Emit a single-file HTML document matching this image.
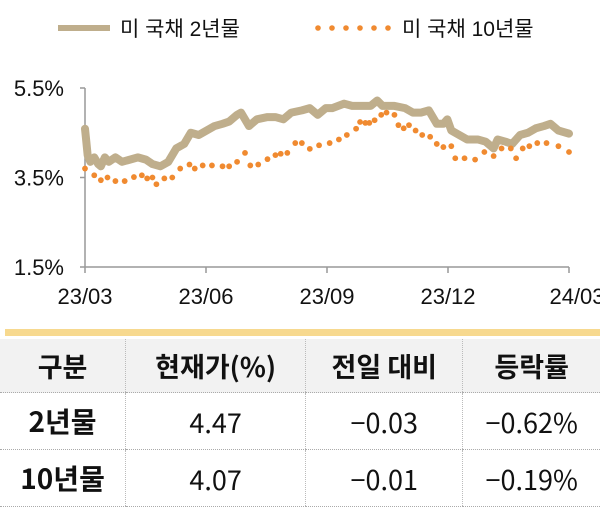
<!DOCTYPE html>
<html><head><meta charset="utf-8"><style>
body{margin:0;width:600px;height:504px;background:#fff;font-family:"Liberation Sans","Noto Sans CJK KR",sans-serif;overflow:hidden;position:relative}
table{position:absolute;left:0;top:339px;width:600px;border-collapse:collapse;font-family:"Noto Sans CJK KR",sans-serif}
td{text-align:center;border-left:1px dotted #bbb;border-bottom:1px dotted #aaa;font-size:27px;color:#111;padding:0}
td:first-child{border-left:none;font-weight:bold;font-size:28px}
tr.h td{background:#f2f2f2;font-weight:bold;font-size:27px;height:53px}
tr.r td{height:56px}
</style></head><body>
<svg width="600" height="334" style="position:absolute;left:0;top:0" font-family="Liberation Sans, Noto Sans CJK KR, sans-serif">
<g>
<line x1="58" y1="28" x2="110" y2="28" stroke="#bfae8c" stroke-width="6"/>
<text x="120" y="36" font-size="21" fill="#111">미 국채 2년물</text>
<g id="ldots"></g>
<text x="402" y="36" font-size="21" fill="#111">미 국채 10년물</text>
</g>
<g id="axes"></g>
<g id="plot"></g>
</svg>
<div style="position:absolute;left:5px;top:329px;width:595px;height:7px;background:#f7d98f"></div>
<table>
<tr class="h"><td>구분</td><td>현재가(%)</td><td>전일 대비</td><td>등락률</td></tr>
<tr class="r"><td>2년물</td><td>4.47</td><td>−0.03</td><td>−0.62%</td></tr>
<tr class="r"><td>10년물</td><td>4.07</td><td>−0.01</td><td>−0.19%</td></tr>
</table>
<script>
const yTicks=[1.5,3.5,5.5];
const xTickLabels=["23/03","23/06","23/09","23/12","24/03"];
const xTickDays=[0,91.5,183,274.5,366];
const days2y=[0,1,2,4,7,10,12,15,18,23,28,34,40,46,51,57,63,69,75,80,86,92,98,104,109,115,118,124,130,138,144,150,156,164,170,176,182,187,196,202,211,216,221,225,234,242,248,254,260,266,271,274,277,283,289,297,303,309,312,318,323,329,335,341,347,352,358,366];
const vals2y=[4.59,4.3,4.0,3.85,3.95,3.8,3.75,3.95,3.85,3.95,3.85,3.9,3.95,3.9,3.8,3.75,3.85,4.15,4.25,4.5,4.45,4.55,4.65,4.7,4.75,4.9,4.95,4.65,4.8,4.85,4.85,4.8,4.95,5.0,5.05,4.9,5.05,5.05,5.15,5.1,5.1,5.1,5.22,5.1,5.1,5.05,4.95,4.95,5.0,4.7,4.7,4.8,4.55,4.45,4.35,4.35,4.3,4.15,4.35,4.3,4.25,4.45,4.5,4.6,4.65,4.7,4.55,4.48];
const days10y=[0,7,12,17,23,30,37,43,47,51,54,60,66,72,79,83,89,96,104,109,115,121,125,131,138,144,148,153,159,164,170,177,185,192,198,205,208,212,215,219,224,228,234,237,241,245,250,255,261,266,271,277,280,287,295,302,309,315,322,326,331,336,342,349,358,366];
const vals10y=[3.7,3.55,3.44,3.5,3.42,3.42,3.51,3.55,3.48,3.5,3.35,3.48,3.5,3.7,3.79,3.7,3.77,3.77,3.75,3.75,3.85,4.05,3.77,3.79,3.91,4.0,4.03,4.05,4.27,4.27,4.14,4.22,4.27,4.35,4.45,4.59,4.74,4.72,4.72,4.78,4.9,4.95,4.9,4.67,4.6,4.67,4.55,4.45,4.41,4.25,4.18,4.2,3.93,3.93,3.9,4.07,3.98,4.15,4.15,3.93,4.15,4.2,4.27,4.27,4.2,4.07];
const NS="http://www.w3.org/2000/svg";
const X=d=>85+d/366*484, Y=v=>267-(v-1.5)/4*179;
function mk(t,a,p){const e=document.createElementNS(NS,t);for(const k in a)e.setAttribute(k,a[k]);p.appendChild(e);return e;}
const ax=document.getElementById('axes'),pl=document.getElementById('plot'),ld=document.getElementById('ldots');
for(let i=0;i<6;i++){const c=mk('circle',{cx:318+i*14,cy:28,r:2.8,fill:'#f08a30'},ld);

}
const ya=mk('line',{x1:85,y1:Y(5.5),x2:85,y2:267,stroke:'#999','stroke-width':1.5},ax);


const xa=mk('line',{x1:85,y1:267,x2:569,y2:267,stroke:'#999','stroke-width':1.5},ax);


yTicks.forEach(v=>{mk('line',{x1:80,y1:Y(v),x2:85,y2:Y(v),stroke:'#999','stroke-width':1.5},ax);
const t=mk('text',{x:64,y:Y(v)+8,'font-size':22,'text-anchor':'end',fill:'#111'},ax);t.textContent=v.toFixed(1)+'%';

});
xTickDays.forEach((d,i)=>{mk('line',{x1:X(d),y1:267,x2:X(d),y2:273,stroke:'#999','stroke-width':1.5},ax);
const t=mk('text',{x:i==4?X(d)+8:X(d),y:304,'font-size':22,'text-anchor':'middle',fill:'#111'},ax);t.textContent=xTickLabels[i];

});
const line=mk('polyline',{points:days2y.map((d,i)=>X(d)+','+Y(vals2y[i])).join(' '),fill:'none',stroke:'#bfae8c','stroke-width':8,'stroke-linejoin':'round','stroke-linecap':'round'},pl);


days10y.forEach((d,i)=>{const c=mk('circle',{cx:X(d),cy:Y(vals10y[i]),r:2.9,fill:'#f08a30'},pl);

});
</script>
</body></html>
